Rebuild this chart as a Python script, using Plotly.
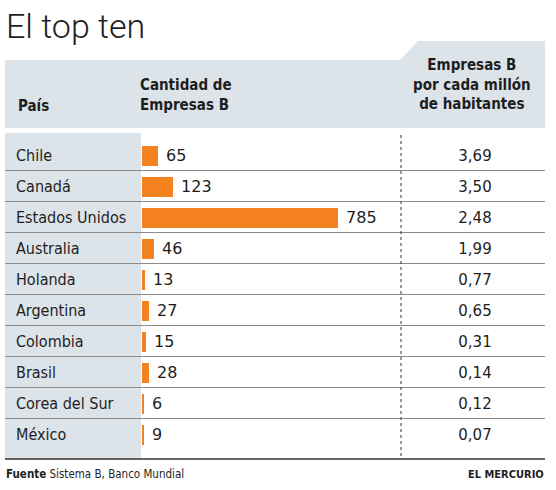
import plotly.graph_objects as go

# ---- data ----
paises = ["Chile", "Canadá", "Estados Unidos", "Australia", "Holanda",
          "Argentina", "Colombia", "Brasil", "Corea del Sur", "México"]
empresas_b = [65, 123, 785, 46, 13, 27, 15, 28, 6, 9]
por_millon = [3.69, 3.50, 2.48, 1.99, 0.77, 0.65, 0.31, 0.14, 0.12, 0.07]

titulo = "El top ten"
col_pais = "País"
col_cantidad = "Cantidad de<br>Empresas B"
col_millon = "Empresas B<br>por cada millón<br>de habitantes"
fuente = "<b>Fuente</b> Sistema B, Banco Mundial"
medio = "EL MERCURIO"

W, H = 556, 490
def px(x):
    return x / W
def py(y):
    return 1 - y / H

ORANGE = "#f58220"
GRAY = "#dce3e9"
TXT = "#1e1e1e"
COND = "DejaVu Sans Condensed, Liberation Sans Narrow, sans-serif"

idx = list(range(len(paises)))
fig = go.Figure()

fig.add_trace(go.Bar(
    x=empresas_b, y=idx, orientation="h", width=0.645,
    marker=dict(color=ORANGE, line=dict(width=0)),
    text=[f" {v}" for v in empresas_b], textposition="outside",
    textfont=dict(family="DejaVu Sans", size=16, color=TXT),
    cliponaxis=False, xaxis="x", yaxis="y", hoverinfo="skip",
))
fig.add_trace(go.Scatter(
    x=[16] * len(paises), y=idx, mode="text", text=paises,
    textposition="middle right",
    textfont=dict(family=COND, size=16, color=TXT),
    xaxis="x2", yaxis="y2", hoverinfo="skip", cliponaxis=False,
))
fig.add_trace(go.Scatter(
    x=[475] * len(paises), y=idx, mode="text",
    text=[f"{v:.2f}".replace(".", ",") for v in por_millon],
    textposition="middle center",
    textfont=dict(family="DejaVu Sans", size=15, color=TXT),
    xaxis="x2", yaxis="y2", hoverinfo="skip", cliponaxis=False,
))

shapes = []
# header band with raised right part
path = (f"M {px(5)},{py(60)} L {px(400)},{py(60)} L {px(418)},{py(41)} "
        f"L {px(545)},{py(41)} L {px(545)},{py(128)} L {px(5)},{py(128)} Z")
shapes.append(dict(type="path", xref="paper", yref="paper", path=path,
                   fillcolor=GRAY, line=dict(width=0), layer="below"))
# country column
shapes.append(dict(type="rect", xref="paper", yref="paper",
                   x0=px(5), x1=px(141), y0=py(459), y1=py(133),
                   fillcolor=GRAY, line=dict(width=0), layer="below"))
# row separators
for i in range(len(paises) - 1):
    shapes.append(dict(type="line", xref="paper", yref="y",
                       x0=px(5), x1=px(545), y0=i + 0.5, y1=i + 0.5,
                       line=dict(color="#8a8a8a", width=1)))
# dotted divider
shapes.append(dict(type="line", xref="paper", yref="paper",
                   x0=px(401), x1=px(401), y0=py(135), y1=py(456),
                   line=dict(color="#333333", width=1, dash="dot")))
# bottom rule
shapes.append(dict(type="line", xref="paper", yref="paper",
                   x0=px(5), x1=px(545), y0=py(459), y1=py(459),
                   line=dict(color="#333333", width=1.5)))

ann = []
ann.append(dict(text=titulo, x=px(4), y=py(26), xref="paper", yref="paper",
                xanchor="left", yanchor="middle", showarrow=False,
                font=dict(family="Roboto", weight=300, size=34, color=TXT)))
ann.append(dict(text=col_pais, x=px(16), y=py(106), xref="paper", yref="paper",
                xanchor="left", yanchor="middle", showarrow=False,
                font=dict(family=COND, weight="bold", size=15, color=TXT)))
ann.append(dict(text=col_cantidad, x=px(138), y=py(95), xref="paper", yref="paper",
                xanchor="left", yanchor="middle", align="left", showarrow=False,
                font=dict(family=COND, weight="bold", size=15, color=TXT)))
ann.append(dict(text=col_millon, x=px(472), y=py(84), xref="paper", yref="paper",
                xanchor="center", yanchor="middle", align="center", showarrow=False,
                font=dict(family=COND, weight="bold", size=15, color=TXT)))
ann.append(dict(text=fuente, x=px(4), y=py(474), xref="paper", yref="paper",
                xanchor="left", yanchor="middle", showarrow=False,
                font=dict(family=COND, size=11.5, color=TXT)))
ann.append(dict(text=f"<b>{medio}</b>", x=px(546), y=py(474), xref="paper", yref="paper",
                xanchor="right", yanchor="middle", showarrow=False,
                font=dict(family=COND, size=11, color=TXT)))

fig.update_layout(
    width=W, height=H, margin=dict(l=0, r=0, t=0, b=0),
    paper_bgcolor="white", plot_bgcolor="rgba(0,0,0,0)",
    showlegend=False, shapes=shapes, annotations=ann,
    xaxis=dict(domain=[px(142), px(400)], range=[0, 1032], visible=False,
               anchor="y", fixedrange=True),
    xaxis2=dict(domain=[0, 1], range=[0, W], visible=False, anchor="y2",
                fixedrange=True),
    yaxis=dict(domain=[py(449.5), py(139.5)], range=[9.5, -0.5], visible=False,
               anchor="x", fixedrange=True),
    yaxis2=dict(domain=[py(451.5), py(141.5)], range=[9.5, -0.5], visible=False,
                anchor="x2", fixedrange=True),
    bargap=0,
)

fig.write_html("out.html", config={"displayModeBar": False},
               post_script="document.body.style.margin='0';document.body.style.padding='0';")
